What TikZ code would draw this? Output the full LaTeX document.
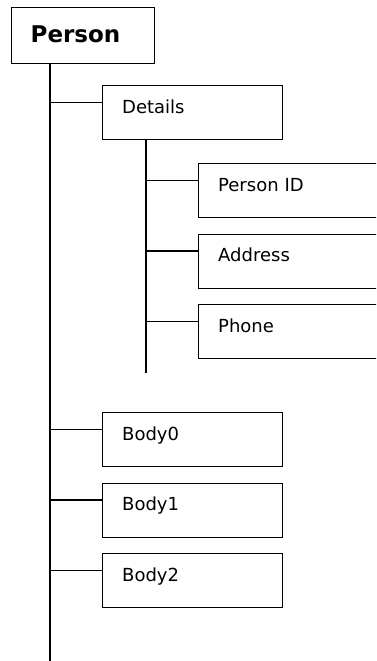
\documentclass[tikz,border=0pt]{standalone}
\usepackage{fontspec}
\setmainfont{DejaVu Sans}
\begin{document}
\begin{tikzpicture}[x=1pt,y=-1pt,
  conn/.style={line width=1.8pt},
  box/.style={draw, line width=1.4pt, rectangle, anchor=north west, align=left,
    inner xsep=20pt, inner ysep=0pt, text height=27.5pt, text depth=26.5pt,
    font=\fontsize{18}{18}\selectfont},
  midbox/.style={box, text width=140pt},
  subbox/.style={box, text width=170pt},
  rootbox/.style={draw, line width=1.4pt, rectangle, anchor=north west, align=left,
    inner xsep=19pt, inner ysep=0pt, text width=105pt, text height=35pt, text depth=21pt,
    font=\fontsize{23}{23}\bfseries\selectfont}]
\useasboundingbox (0,0) rectangle (376,661);
\clip (0,0) rectangle (376,661);
\fill[white] (0,0) rectangle (376,661);

\node[rootbox] (person) at (11,7) {Person};
\node[midbox] (details) at (101.5,85) {Details};
\node[subbox] (pid) at (197.5,163) {Person ID};
\node[subbox] (addr) at (197.5,233.5) {Address};
\node[subbox] (phone) at (197.5,304) {Phone};
\node[midbox] (body0) at (101.5,412) {Body0};
\node[midbox] (body1) at (101.5,482.5) {Body1};
\node[midbox] (body2) at (101.5,553) {Body2};

\coordinate (mainbot) at (50,662);
\coordinate (detbot) at (145.7,373);

\draw[conn] (person.south -| mainbot) -- (mainbot);
\draw[conn] (details.south -| detbot) -- (detbot);

\foreach \n in {details,body0,body1,body2}
  \draw[conn] ([yshift=-17.5pt]\n.north west -| mainbot) -- ([yshift=-17.5pt]\n.north west);
\foreach \n in {pid,addr,phone}
  \draw[conn] ([yshift=-17.5pt]\n.north west -| detbot) -- ([yshift=-17.5pt]\n.north west);
\end{tikzpicture}
\end{document}
